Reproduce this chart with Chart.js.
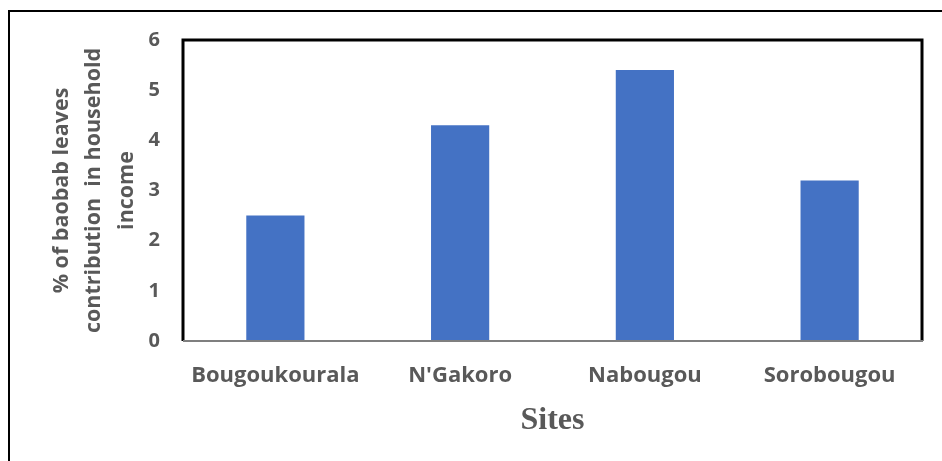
<!DOCTYPE html>
<html>
<head>
<meta charset="utf-8">
<script src="https://cdn.jsdelivr.net/npm/chart.js@4.4.1/dist/chart.umd.min.js"></script>
<style>
html,body{margin:0;padding:0;background:#fff;}
#wrap{width:942px;height:461px;position:relative;}
</style>
</head>
<body>
<div id="wrap"><canvas id="c" width="942" height="461"></canvas></div>
<script>
const categories = ["Bougoukourala", "N'Gakoro", "Nabougou", "Sorobougou"];
const values = [2.5, 4.3, 5.4, 3.2];
const yTicks = [0, 1, 2, 3, 4, 5, 6];
const yTitle = ["% of baobab leaves", "contribution  in household", "income"];
const xTitle = "Sites";

const frame = {
  id: 'frame',
  beforeDraw(chart) {
    const ctx = chart.ctx;
    ctx.save();
    ctx.fillStyle = '#fff';
    ctx.fillRect(0, 0, chart.width, chart.height);
    ctx.strokeStyle = '#000';
    ctx.lineWidth = 2;
    ctx.beginPath();
    ctx.moveTo(9, chart.height);
    ctx.lineTo(9, 11);
    ctx.lineTo(chart.width, 11);
    ctx.stroke();
    ctx.restore();
  },
  afterDatasetsDraw(chart) {
    const a = chart.chartArea, ctx = chart.ctx;
    ctx.save();
    ctx.strokeStyle = '#000';
    ctx.lineWidth = 3;
    ctx.beginPath();
    ctx.moveTo(a.left, a.bottom);
    ctx.lineTo(a.left, a.top);
    ctx.lineTo(a.right, a.top);
    ctx.lineTo(a.right, a.bottom);
    ctx.stroke();
    ctx.strokeStyle = '#7f7f7f';
    ctx.lineWidth = 2;
    ctx.beginPath();
    ctx.moveTo(a.left, a.bottom);
    ctx.lineTo(a.right + 1, a.bottom);
    ctx.stroke();
    ctx.restore();
  }
};

new Chart(document.getElementById('c'), {
  type: 'bar',
  data: {
    labels: categories,
    datasets: [{
      data: values,
      backgroundColor: '#4472C4',
      borderWidth: 0,
      categoryPercentage: 1,
      barPercentage: 0.315
    }]
  },
  options: {
    responsive: false,
    animation: false,
    layout: { padding: { left: 10, top: 40, right: 20, bottom: 0 } },
    plugins: { legend: { display: false }, tooltip: { enabled: false } },
    scales: {
      x: {
        grid: { display: false, drawTicks: false },
        border: { display: false },
        ticks: { color: '#595959', font: { family: 'Open Sans', weight: 'bold', size: 22 }, padding: 22, maxRotation: 0 },
        title: { display: true, text: xTitle, color: '#595959', font: { family: 'Liberation Serif', weight: 'bold', size: 32 }, padding: { top: 4, bottom: 21 } },
        afterFit(s) { s.height = 120; }
      },
      y: {
        min: 0, max: 6,
        grid: { display: false, drawTicks: false },
        border: { display: false },
        afterBuildTicks(s) { s.ticks = yTicks.map(v => ({ value: v })); },
        ticks: { color: '#595959', font: { family: 'Open Sans', weight: 'bold', size: 20 }, padding: 23 },
        title: { display: true, text: yTitle, color: '#595959', font: { family: 'Open Sans', weight: 'bold', size: 21.5, lineHeight: 1.53 }, padding: { top: 35, bottom: 0 } },
        afterFit(s) { s.width = 173; }
      }
    }
  },
  plugins: [frame]
});
</script>
</body>
</html>
